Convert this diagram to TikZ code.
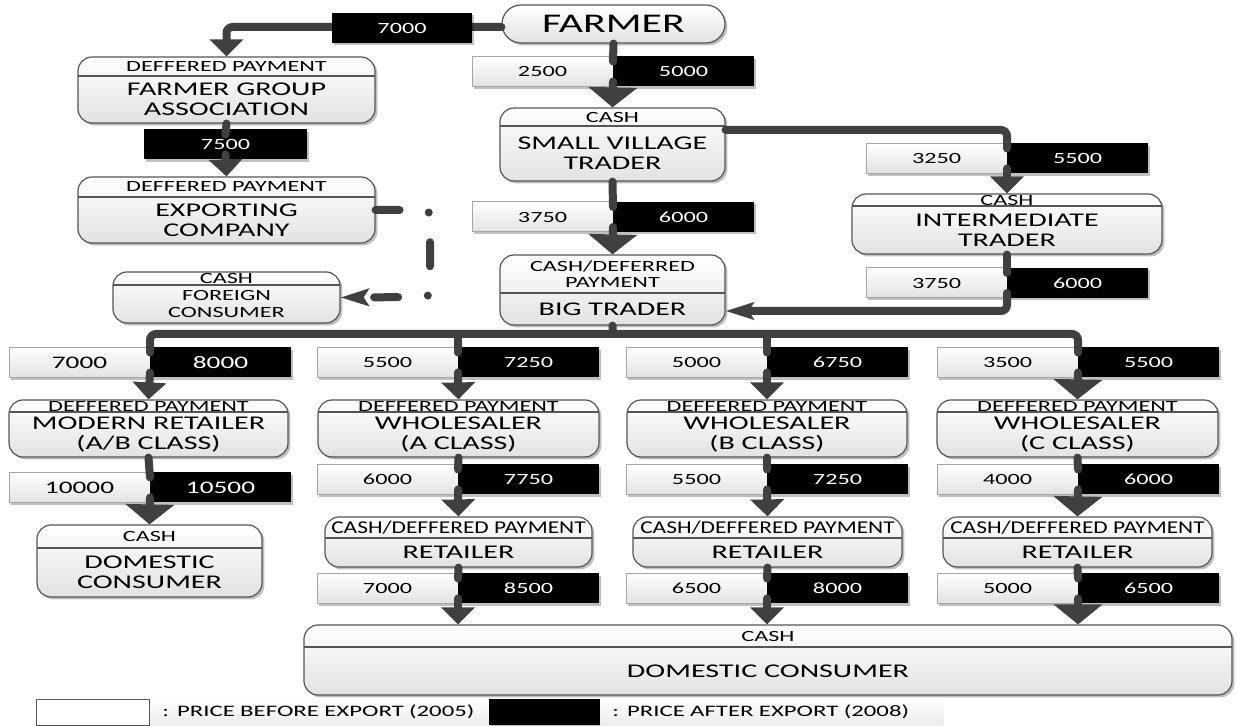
\documentclass[tikz,border=0pt]{standalone}
\usepackage{fontspec}
\setmainfont{Carlito}[FakeStretch=1.55]
\newfontfamily\condfont{Carlito}[FakeStretch=1.3]
\usetikzlibrary{arrows.meta, fit, shadows}

\definecolor{flowgray}{HTML}{404040}
\definecolor{edgegray}{HTML}{555555}
\definecolor{boxgray}{HTML}{E2E2E2}

\tikzset{
  softshadow/.style={drop shadow={shadow xshift=1.2pt, shadow yshift=-1.2pt, opacity=.25, fill=black}},
  actorbox/.style={draw=edgegray, line width=.6pt, rounded corners=7pt, inner sep=0pt,
    top color=white, bottom color=boxgray, softshadow},
  farmerbox/.style={draw=edgegray, line width=.6pt, rounded corners=9.5pt,
    minimum width=111.5pt, minimum height=19pt, top color=white, bottom color=boxgray,
    softshadow, font=\fontsize{13.5}{14}\selectfont},
  divider/.style={draw=edgegray, line width=.6pt},
  hdr/.style={inner sep=0pt, align=center, font=\fontsize{7.8}{8}\selectfont},
  body/.style={inner sep=0pt, align=center, font=\fontsize{9.7}{10}\selectfont},
  beforebox/.style={draw=gray!70, line width=.5pt, top color=white, bottom color=boxgray,
    minimum width=70.5pt, minimum height=15pt, inner sep=0pt, outer sep=0pt,
    font=\fontsize{7.8}{8}\selectfont, softshadow},
  afterbox/.style={fill=black, text=white, minimum width=70.5pt, minimum height=15pt,
    inner sep=0pt, outer sep=0pt, font=\fontsize{7.8}{8}\selectfont, softshadow},
  legendtext/.style={anchor=west, minimum height=13.5pt, inner xsep=6pt, inner ysep=0pt,
    align=left, top color=white, bottom color=gray!15, font=\fontsize{8}{9}\selectfont},
  flow/.style={draw=flowgray, line width=4pt, line cap=round, rounded corners=3pt},
  arrowtip/.style={-{Triangle[width=16.5pt,length=8.5pt]}},
  bigarrow/.style={-{Triangle[width=24pt,length=10pt]}},
  sidearrow/.style={-{Stealth[width=8.5pt,length=14pt,inset=2.5pt]}},
  exportdash/.style={dash pattern=on 12pt off 15pt on 0pt off 15pt}
}

% actor box: [body options]{name}{x left}{x right}{y top}{y divider}{y bottom}{header}{body}
\newcommand{\actor}[9][]{%
  \node[actorbox, fit={(#3,#5) (#4,#7)}] (#2) {};
  \begin{scope}
    \clip[rounded corners=7pt] (#3,#5) rectangle (#4,#7);
    \draw[divider] (#3,#6) -- (#4,#6);
  \end{scope}
  \node[hdr] (#2h) at ({(#3+#4)/2},{(#5+#6)/2}) {#8};
  \node[body, #1] (#2t) at ({(#3+#4)/2},{(#6+#7)/2}) {#9};}

% price pair: [options]{name}{x split}{y centre}{before}{after}
\newcommand{\pricepair}[6][]{%
  \node[beforebox, anchor=east, #1] (#2w) at (#3,#4) {#5};
  \node[afterbox, anchor=west, #1] (#2b) at (#3,#4) {#6};}

\newcommand{\retailhead}{{\condfont\fontsize{9}{10}\selectfont CASH/DEFFERED PAYMENT}}

\begin{document}
\begin{tikzpicture}[x=0.5pt, y=-0.5pt]
  \useasboundingbox (0,0) rectangle (1237,726);

  % actors
  \node[farmerbox] (farmer) at (613.5,24) {FARMER};
  \actor{fga}{78}{375}{57}{76}{123}{DEFFERED PAYMENT}{FARMER GROUP\\ASSOCIATION}
  \actor{ec}{78}{375}{177}{197}{243}{DEFFERED PAYMENT}{EXPORTING\\COMPANY}
  \actor[font=\fontsize{7.8}{8.5}\selectfont]{fc}{113}{340}{272}{285}{323}{CASH}{FOREIGN\\CONSUMER}
  \actor{svt}{500}{725}{108}{126}{181}{CASH}{SMALL VILLAGE\\TRADER}
  \actor{bt}{500}{725}{255}{293}{325}{CASH/DEFERRED\\PAYMENT}{BIG TRADER}
  \actor{it}{852}{1162}{194}{206}{254}{CASH}{INTERMEDIATE\\TRADER}
  \actor{mr}{9}{288}{400}{412}{457}{DEFFERED PAYMENT}{MODERN RETAILER\\(A/B CLASS)}
  \actor{wa}{318}{599}{400}{412}{457}{DEFFERED PAYMENT}{WHOLESALER\\(A CLASS)}
  \actor{wb}{627}{907}{400}{412}{457}{DEFFERED PAYMENT}{WHOLESALER\\(B CLASS)}
  \actor{wc}{937}{1218}{400}{412}{457}{DEFFERED PAYMENT}{WHOLESALER\\(C CLASS)}
  \actor{ra}{325}{592}{517}{538}{567}{\retailhead}{RETAILER}
  \actor{rb}{633}{902}{517}{538}{567}{\retailhead}{RETAILER}
  \actor{rc}{943}{1212}{517}{538}{567}{\retailhead}{RETAILER}
  \actor{dcs}{37}{262}{525}{548}{597}{CASH}{DOMESTIC\\CONSUMER}
  \actor{dc}{304}{1232}{625}{647}{695}{CASH}{DOMESTIC CONSUMER}

  % export branch
  \draw[flow, arrowtip] ([yshift=-1.5pt]farmer.west) -| (fga.north);
  \node[afterbox, minimum width=70pt] (pf) at (402,28) {7000};
  \node[afterbox, minimum width=81.5pt] (pe) at (225.5,144.5) {7500};
  \draw[flow] (fga.south) -- ([yshift=-2.5pt]pe.north);
  \draw[flow, arrowtip] ([yshift=2.5pt]pe.south) -- (ec.north);
  \draw[flow, exportdash, sidearrow] (ec.east) -| (430,297) -- (fc.east);

  % traders
  \pricepair{pfs}{613}{71.5}{2500}{5000}
  \draw[flow] (farmer.south) -- ([yshift=-2.5pt]pfsb.north west);
  \draw[flow, bigarrow] ([yshift=2.5pt]pfsb.south west) -- (svt.north);
  \pricepair{psb}{613}{217}{3750}{6000}
  \draw[flow] (svt.south) -- ([yshift=-2.5pt]psbb.north west);
  \draw[flow, bigarrow] ([yshift=2.5pt]psbb.south west) -- (bt.north);
  \pricepair{psi}{1007}{158.5}{3250}{5500}
  \draw[flow] (svt.east |- 0,130) -| ([yshift=-2.5pt]psib.north west);
  \draw[flow, arrowtip] ([yshift=2.5pt]psib.south west) -- (it.north);
  \pricepair{pib}{1007}{283}{3750}{6000}
  \draw[flow] (it.south) -- ([yshift=-2.5pt]pibb.north west);
  \draw[flow, sidearrow] ([yshift=2.5pt]pibb.south west) |- (bt.east |- 0,311);

  % distribution
  \pricepair[font=\fontsize{8.8}{9}\selectfont]{pm1}{150}{362.5}{7000}{8000}
  \pricepair{pa1}{458}{362.5}{5500}{7250}
  \pricepair{pb1}{767}{362.5}{5000}{6750}
  \pricepair{pc1}{1078}{362.5}{3500}{5500}
  \coordinate (bus) at (613,334);
  \draw[flow] (bt.south) -- (bus);
  \draw[flow] ([yshift=-2.5pt]pm1b.north west) |- (bus) -| ([yshift=-2.5pt]pc1b.north west);
  \draw[flow] (bus -| pa1b.north west) -- ([yshift=-2.5pt]pa1b.north west);
  \draw[flow] (bus -| pb1b.north west) -- ([yshift=-2.5pt]pb1b.north west);

  % modern retailer
  \pricepair[font=\fontsize{8.8}{9}\selectfont]{pm2}{150}{487.5}{10000}{10500}
  \draw[flow, arrowtip] ([yshift=2.5pt]pm1b.south west) -- (mr.north);
  \draw[flow] (mr.south) -- ([yshift=-2.5pt]pm2b.north west);
  \draw[flow, bigarrow] ([yshift=2.5pt]pm2b.south west) -- (dcs.north);

  % wholesaler A
  \pricepair{pa2}{458}{479.5}{6000}{7750}
  \pricepair{pa3}{458}{588.5}{7000}{8500}
  \draw[flow, arrowtip] ([yshift=2.5pt]pa1b.south west) -- (wa.north);
  \draw[flow] (wa.south) -- ([yshift=-2.5pt]pa2b.north west);
  \draw[flow, arrowtip] ([yshift=2.5pt]pa2b.south west) -- (ra.north);
  \draw[flow] (ra.south) -- ([yshift=-2.5pt]pa3b.north west);
  \draw[flow, arrowtip] ([yshift=2.5pt]pa3b.south west) -- (pa3b.south west |- dc.north);

  % wholesaler B
  \pricepair{pb2}{767}{479.5}{5500}{7250}
  \pricepair{pb3}{767}{588.5}{6500}{8000}
  \draw[flow, arrowtip] ([yshift=2.5pt]pb1b.south west) -- (wb.north);
  \draw[flow] (wb.south) -- ([yshift=-2.5pt]pb2b.north west);
  \draw[flow, arrowtip] ([yshift=2.5pt]pb2b.south west) -- (rb.north);
  \draw[flow] (rb.south) -- ([yshift=-2.5pt]pb3b.north west);
  \draw[flow, arrowtip] ([yshift=2.5pt]pb3b.south west) -- (pb3b.south west |- dc.north);

  % wholesaler C
  \pricepair{pc2}{1078}{479.5}{4000}{6000}
  \pricepair{pc3}{1078}{588.5}{5000}{6500}
  \draw[flow, bigarrow] ([yshift=2.5pt]pc1b.south west) -- (wc.north);
  \draw[flow] (wc.south) -- ([yshift=-2.5pt]pc2b.north west);
  \draw[flow, bigarrow] ([yshift=2.5pt]pc2b.south west) -- (rc.north);
  \draw[flow] (rc.south) -- ([yshift=-2.5pt]pc3b.north west);
  \draw[flow, bigarrow] ([yshift=2.5pt]pc3b.south west) -- (pc3b.south west |- dc.north);

  % legend
  \node[beforebox, fill=white, top color=white, bottom color=white, draw=edgegray,
    minimum width=56.5pt, minimum height=13pt] (lgw) at (92.5,712) {};
  \node[legendtext, text width=158pt] (lgwt) at (150,712) {: PRICE BEFORE EXPORT (2005)};
  \node[afterbox, minimum width=55.5pt, minimum height=13pt] (lgb) at (544.5,712) {};
  \node[legendtext, text width=159.5pt] (lgbt) at (600,712) {: PRICE AFTER EXPORT (2008)};
\end{tikzpicture}
\end{document}
